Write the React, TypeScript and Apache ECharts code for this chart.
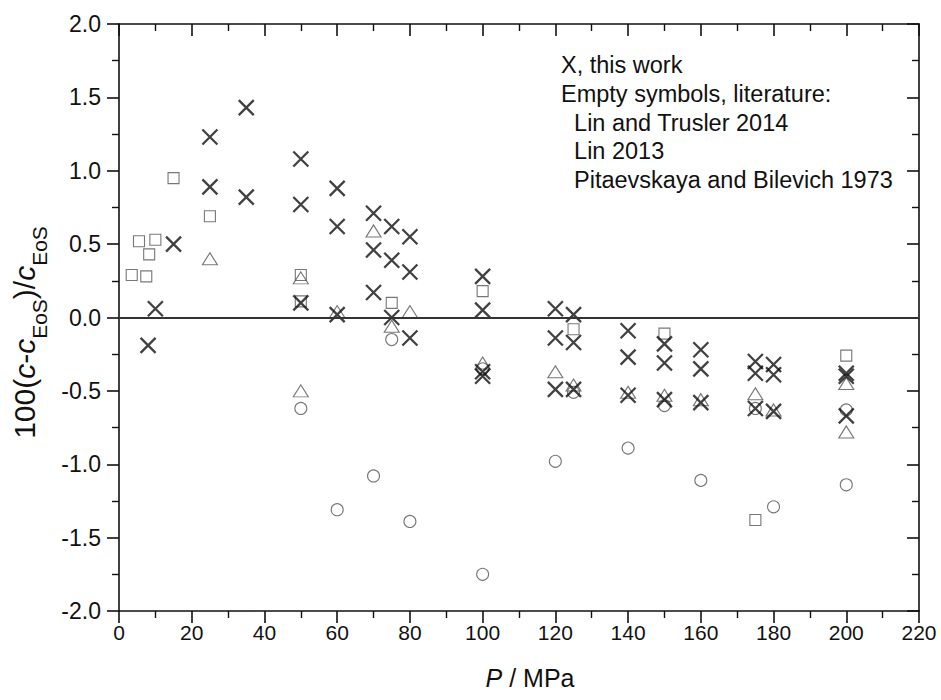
import React, { useEffect, useRef } from "react";
import * as echarts from "echarts";

// Deviations of measured speed of sound from the EoS, 100(c - c_EoS)/c_EoS, vs pressure P / MPa

// this work (crosses)
const workP = [8, 10, 15, 25, 25, 35, 35, 50, 50, 50, 60, 60, 60, 70, 70, 70, 75, 75, 75, 80, 80, 80, 100, 100, 100, 100, 120, 120, 120, 125, 125, 125, 140, 140, 140, 150, 150, 150, 160, 160, 160, 175, 175, 175, 180, 180, 180, 200, 200, 200];
const workDev = [-0.19, 0.06, 0.5, 1.23, 0.89, 1.43, 0.82, 1.08, 0.77, 0.1, 0.88, 0.62, 0.02, 0.71, 0.46, 0.17, 0.62, 0.39, 0.0, 0.55, 0.31, -0.14, 0.28, 0.05, -0.37, -0.4, 0.06, -0.14, -0.49, 0.02, -0.17, -0.49, -0.09, -0.27, -0.53, -0.18, -0.31, -0.56, -0.22, -0.35, -0.58, -0.3, -0.38, -0.62, -0.32, -0.39, -0.64, -0.38, -0.4, -0.67];

// Lin and Trusler 2014 (open squares)
const linTruslerP = [3.5, 5.5, 7.5, 8.3, 10, 15, 25, 50, 50, 75, 100, 125, 150, 175, 200];
const linTruslerDev = [0.29, 0.52, 0.28, 0.43, 0.53, 0.95, 0.69, 0.29, 0.11, 0.1, 0.18, -0.08, -0.11, -1.38, -0.26];

// Lin 2013 (open triangles)
const lin2013P = [25, 50, 50, 60, 70, 75, 80, 100, 120, 125, 140, 150, 160, 175, 180, 200, 200];
const lin2013Dev = [0.4, 0.27, -0.5, 0.04, 0.59, -0.06, 0.04, -0.31, -0.37, -0.46, -0.51, -0.53, -0.56, -0.52, -0.63, -0.45, -0.78];

// Pitaevskaya and Bilevich 1973 (open circles)
const pitaevskayaP = [50, 60, 70, 75, 80, 100, 100, 120, 125, 140, 150, 160, 175, 180, 200, 200];
const pitaevskayaDev = [-0.62, -1.31, -1.08, -0.15, -1.39, -0.35, -1.75, -0.98, -0.51, -0.89, -0.6, -1.11, -0.62, -1.29, -0.63, -1.14];

const noteLines = [
  "X, this work",
  "Empty symbols, literature:",
  "  Lin and Trusler 2014",
  "  Lin 2013",
  "  Pitaevskaya and Bilevich 1973",
];

const FONT = '"Liberation Sans", Arial, sans-serif';
const INK = "#111";
const OPEN = "#555";

const pairs = (xs: number[], ys: number[]) => xs.map((x, i) => [x, ys[i]]);

export default function App() {
  const ref = useRef<HTMLDivElement>(null);

  useEffect(() => {
    if (!ref.current) return;
    const chart = echarts.init(ref.current, null, { renderer: "svg" });

    const axisLine = { show: true, onZero: false, lineStyle: { color: INK, width: 1.6 } };

    const openStyle = { color: "rgba(0,0,0,0)", borderColor: OPEN, borderWidth: 1.1 };

    chart.setOption({
      animation: false,
      backgroundColor: "#fff",
      grid: { left: 119, right: 22, top: 24, bottom: 89, containLabel: false, outerBoundsMode: "none" },
      xAxis: [
        {
          type: "value",
          position: "bottom",
          min: 0,
          max: 220,
          interval: 20,
          axisLine,
          axisTick: { show: true, inside: false, length: 12, lineStyle: { color: INK, width: 1.6 } },
          minorTick: { show: true, splitNumber: 2, length: 7, lineStyle: { color: INK, width: 1.4 } },
          splitLine: { show: false },
          axisLabel: { fontSize: 21, color: INK, fontFamily: FONT, margin: 11 },
          name: "{i|P} / MPa",
          nameLocation: "middle",
          nameGap: 54,
          nameTextStyle: {
            fontSize: 25,
            color: INK,
            fontFamily: FONT,
            padding: [0, 0, 0, 22],
            rich: { i: { fontSize: 25, fontStyle: "italic", fontFamily: FONT, color: INK } },
          },
        },
        {
          type: "value",
          position: "top",
          min: 0,
          max: 220,
          interval: 20,
          axisLine,
          axisTick: { show: true, inside: true, length: 12, lineStyle: { color: INK, width: 1.6 } },
          minorTick: { show: true, splitNumber: 2, length: 7, lineStyle: { color: INK, width: 1.4 } },
          splitLine: { show: false },
          axisLabel: { show: false },
        },
      ],
      yAxis: [
        {
          type: "value",
          position: "left",
          min: -2,
          max: 2,
          interval: 0.5,
          axisLine,
          axisTick: { show: true, inside: false, length: 12, lineStyle: { color: INK, width: 1.6 } },
          minorTick: { show: true, splitNumber: 2, length: 7, lineStyle: { color: INK, width: 1.4 } },
          splitLine: { show: false },
          axisLabel: {
            fontSize: 23,
            color: INK,
            fontFamily: FONT,
            margin: 18,
            formatter: (v: number) => v.toFixed(1),
          },
          name: "{n|100(}{i|c}{n|-}{i|c}{s|EoS}{n|)/}{i|c}{s|EoS}",
          nameLocation: "middle",
          nameRotate: 90,
          nameGap: 68,
          nameTextStyle: {
            color: INK,
            fontFamily: FONT,
            padding: [0, 30, 0, 0],
            rich: {
              n: { fontSize: 30, fontFamily: FONT, color: INK, lineHeight: 52 },
              i: { fontSize: 30, fontFamily: FONT, color: INK, fontStyle: "italic", lineHeight: 52 },
              s: { fontSize: 21, fontFamily: FONT, color: INK, lineHeight: 21, verticalAlign: "bottom" },
            },
          },
        },
        {
          type: "value",
          position: "right",
          min: -2,
          max: 2,
          interval: 0.5,
          axisLine,
          axisTick: { show: true, inside: true, length: 12, lineStyle: { color: INK, width: 1.6 } },
          minorTick: { show: true, splitNumber: 2, length: 7, lineStyle: { color: INK, width: 1.4 } },
          splitLine: { show: false },
          axisLabel: { show: false },
        },
      ],
      graphic: noteLines.map((t, i) => ({
        type: "text",
        left: 561,
        top: 53 + i * 28.8,
        silent: true,
        style: {
          text: t,
          font: `23.5px ${FONT}`,
          fill: INK,
        },
      })),
      series: [
        {
          name: "Lin and Trusler 2014",
          type: "scatter",
          data: pairs(linTruslerP, linTruslerDev),
          symbol: "rect",
          symbolSize: 11,
          itemStyle: openStyle,
          z: 2,
          markLine: {
            silent: true,
            symbol: "none",
            label: { show: false },
            lineStyle: { color: "#333", width: 1.8, type: "solid" },
            data: [{ yAxis: 0 }],
          },
        },
        {
          name: "Lin 2013",
          type: "scatter",
          data: pairs(lin2013P, lin2013Dev),
          symbol: "triangle",
          symbolSize: [15, 12],
          itemStyle: openStyle,
          z: 2,
        },
        {
          name: "Pitaevskaya and Bilevich 1973",
          type: "scatter",
          data: pairs(pitaevskayaP, pitaevskayaDev),
          symbol: "circle",
          symbolSize: 12,
          itemStyle: openStyle,
          z: 2,
        },
        {
          name: "this work",
          type: "scatter",
          data: pairs(workP, workDev),
          symbol: "path://M0,0L10,10M10,0L0,10",
          symbolSize: 15,
          itemStyle: { color: "rgba(0,0,0,0)", borderColor: INK, borderWidth: 2.3 },
          z: 3,
        },
      ],
    });

    return () => chart.dispose();
  }, []);

  return (
    <div
      ref={ref}
      style={{ position: "fixed", left: 0, top: 0, width: 941, height: 700, background: "#fff" }}
    />
  );
}
